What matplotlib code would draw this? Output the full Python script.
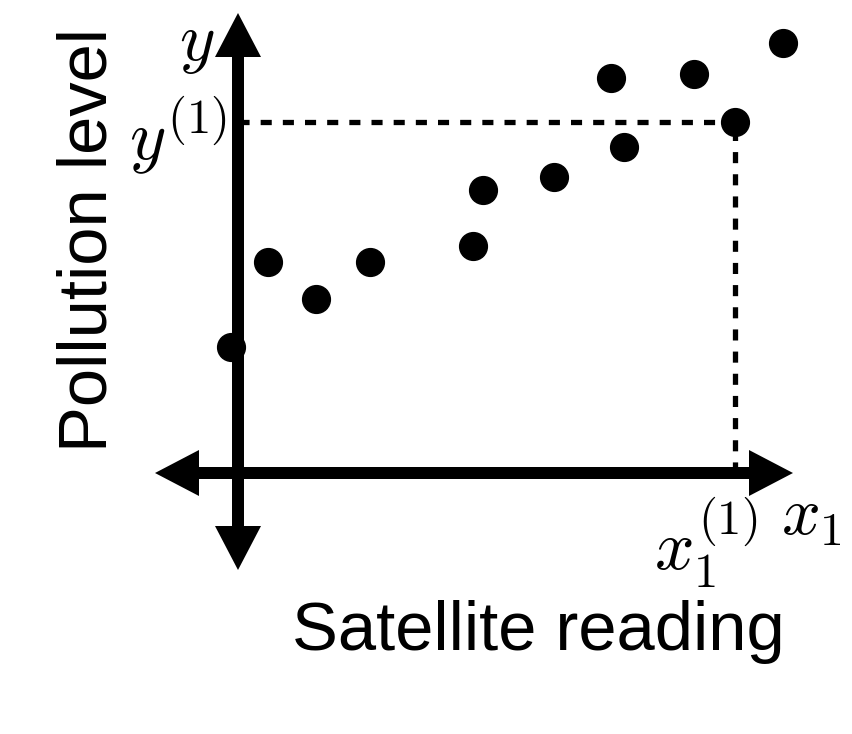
import matplotlib
matplotlib.use("Agg")
import matplotlib.pyplot as plt

plt.rcParams['font.family'] = ['Liberation Sans', 'DejaVu Sans']
plt.rcParams['mathtext.fontset'] = 'cm'

# satellite reading (x) and pollution level (y), axis crossing at 0,0
sat_reading = [-0.07, 0.30, 0.78, 1.32, 2.35, 2.45, 3.16, 3.73, 3.86, 4.56, 4.97, 5.45]
pollution = [1.26, 2.11, 1.74, 2.11, 2.27, 2.83, 2.96, 3.95, 3.26, 3.99, 3.51, 4.30]
ref_idx = 10  # the labelled example (x_1^(1), y^(1))

fig = plt.figure(figsize=(8.52, 7.34), dpi=100)
ax = fig.add_axes([0, 0, 1, 1])
ax.set_xlim(-2.38, 6.14)
ax.set_ylim(-2.61, 4.73)
ax.axis('off')

# axes drawn as arrows
arrow_kw = dict(width=0.12, head_width=0.46, head_length=0.44,
                length_includes_head=True, color='k', lw=0, zorder=2)
ax.arrow(0, 0, 0, 4.60, **arrow_kw)
ax.arrow(0, 0, 0, -0.97, **arrow_kw)
ax.arrow(0, 0, 5.55, 0, **arrow_kw)
ax.arrow(0, 0, -0.83, 0, **arrow_kw)

# dashed guides to the reference point
xr, yr = sat_reading[ref_idx], pollution[ref_idx]
ax.plot([0, xr], [yr, yr], color='k', lw=3.8, ls=(0, (2.1, 2.1)), zorder=1)
ax.plot([xr, xr], [0, yr], color='k', lw=3.8, ls=(0, (2.1, 2.1)), zorder=1)

ax.plot(sat_reading, pollution, 'o', color='k', markersize=20, zorder=3)

ax.text(-1.49, 2.33, 'Pollution level', fontsize=49.5, rotation=90,
        ha='center', va='center')
ax.text(3.00, -1.77, 'Satellite reading', fontsize=49.5, ha='center', va='baseline')

ax.text(-0.41, 4.29, r'$y$', fontsize=49, ha='center', va='center')
ax.text(-0.60, 3.37, r'$y^{(1)}$', fontsize=50, ha='center', va='center')
ax.text(4.68, -0.70, r'$x_1^{(1)}$', fontsize=50, ha='center', va='center')
ax.text(5.73, -0.43, r'$x_1$', fontsize=49, ha='center', va='center')

fig.savefig('out.png', dpi=100)
